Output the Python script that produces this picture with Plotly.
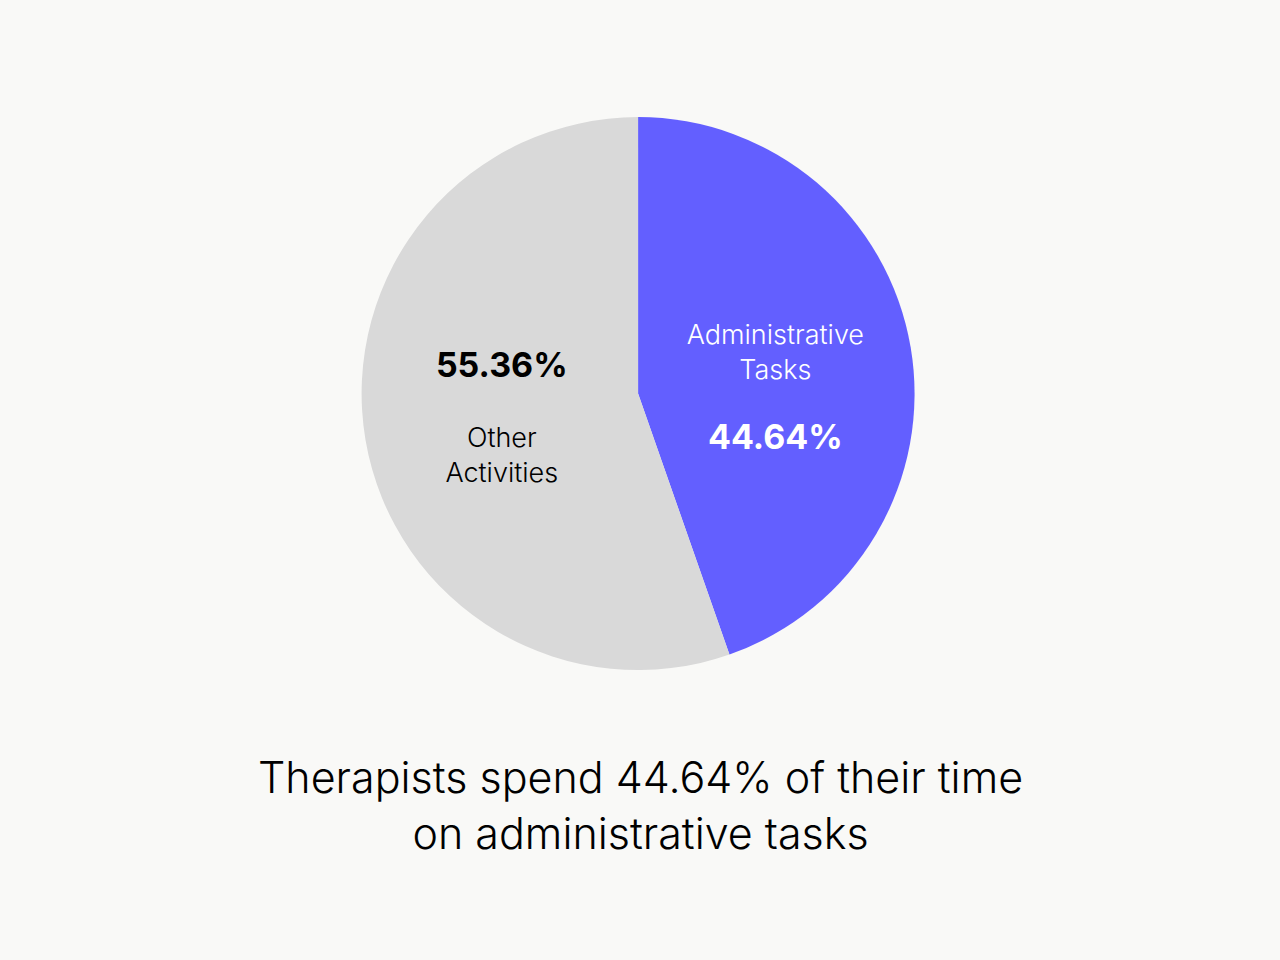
import plotly.graph_objects as go

labels = ["Administrative<br>Tasks", "Other<br>Activities"]
values = [44.64, 55.36]
colors = ["#635FFF", "#D9D9D9"]
text_colors = ["#FFFFFF", "#000000"]
title_text = "Therapists spend 44.64% of their time<br>on administrative tasks"

BG = "#F9F9F7"
FONT = "Inter, Noto Sans, sans-serif"

templates = [
    "&nbsp;<br>%{label}<br><br><span style='font-size:34px'><b>%{percent:.2%}</b></span>",
    "<span style='font-size:34px'><b>%{percent:.2%}</b></span><br><br>%{label}",
]

fig = go.Figure(go.Pie(
    labels=labels,
    values=values,
    sort=False,
    direction="clockwise",
    rotation=0,
    marker=dict(colors=colors, line=dict(width=0)),
    texttemplate=templates,
    textposition="inside",
    insidetextorientation="horizontal",
    insidetextfont=dict(color=text_colors, size=27, family=FONT, weight=300),
    hoverinfo="label+percent",
    showlegend=False,
    domain=dict(x=[0.282, 0.715], y=[0.302, 0.878]),
))

fig.add_annotation(
    text=title_text,
    x=0.5, y=0.161,
    xref="paper", yref="paper",
    yanchor="middle",
    showarrow=False,
    font=dict(size=43, color="#000000", family=FONT, weight=300),
    align="center",
)

fig.update_layout(
    width=1280,
    height=960,
    paper_bgcolor=BG,
    plot_bgcolor=BG,
    margin=dict(l=0, r=0, t=0, b=0),
    font=dict(family=FONT),
)

fig.write_html(
    "out.html",
    config={"displayModeBar": False},
    post_script="document.body.style.margin='0';",
)
